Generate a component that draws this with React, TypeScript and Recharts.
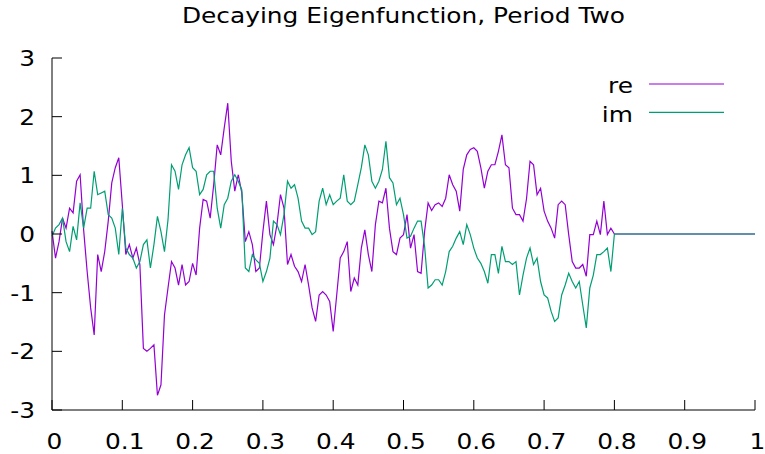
import React from "react";
import { LineChart, Line, XAxis, YAxis } from "recharts";

const TITLE = "Decaying Eigenfunction, Period Two";
const SERIES_NAMES = ["re", "im"];
const COLORS = { re: "#9400d3", im: "#009e73" };

const X_STEP = 0.005;
const X_TICKS = [0, 0.1, 0.2, 0.3, 0.4, 0.5, 0.6, 0.7, 0.8, 0.9, 1];
const X_TICK_LABELS = ["0", "0.1", "0.2", "0.3", "0.4", "0.5", "0.6", "0.7", "0.8", "0.9", "1"];
const Y_TICKS = [-3, -2, -1, 0, 1, 2, 3];
const Y_TICK_LABELS = ["-3", "-2", "-1", "0", "1", "2", "3"];

const reValues = [
  0.05, -0.41, -0.13, 0.27, 0.1, 0.44, 0.36, 0.9, 1.01, 0.07,
  -0.64, -1.26, -1.72, -0.35, -0.64, -0.3, 0.22, 0.87, 1.13, 1.3,
  0.5, -0.35, -0.18, -0.41, -0.24, -0.52, -1.95, -2.0, -1.95, -1.89,
  -2.75, -2.57, -1.38, -0.92, -0.47, -0.58, -0.87, -0.52, -0.87, -0.81,
  -0.5, -0.7, 0.1, 0.59, 0.56, 0.27, 0.84, 1.52, 1.35, 1.81,
  2.23, 1.24, 0.73, 1.01, 0.7, -0.13, 0.04, -0.18, -0.64, -0.58,
  0.04, 0.56, -0.01, -0.18, 0.16, 0.67, 0.44, -0.52, -0.35, -0.55,
  -0.64, -0.81, -0.52, -0.87, -1.26, -1.49, -1.04, -0.98, -1.04, -1.15,
  -1.66, -1.04, -0.41, -0.3, -0.13, -0.98, -0.75, -0.87, -0.24, 0.07,
  -0.35, -0.64, 0.16, 0.56, 0.53, 0.78, 0.1, -0.3, -0.35, -0.07,
  -0.01, 0.33, -0.24, -0.01, -0.64, -0.67, 0.04, 0.53, 0.4, 0.5,
  0.53, 0.47, 0.61, 1.01, 0.84, 0.73, 0.39, 1.1, 1.35, 1.44,
  1.47, 1.41, 1.13, 0.78, 1.07, 1.18, 1.18, 1.41, 1.69, 1.18,
  1.13, 0.44, 0.33, 0.33, 0.22, 0.6, 1.24, 1.18, 0.67, 0.78,
  0.39, 0.22, 0.1, -0.07, 0.5, 0.56, 0.5, -0.01, -0.47, -0.58,
  -0.58, -0.52, -0.72, -0.01, -0.01, 0.22, -0.01, 0.56, -0.01, 0.1,
  0,
];

const imValues = [
  -0.04, 0.1, 0.16, 0.27, -0.13, -0.3, 0.13, -0.1, 0.53, 0.1,
  0.44, 0.44, 1.07, 0.67, 0.7, 0.73, 0.33, 0.27, 0.1, -0.35,
  0.44, -0.24, -0.35, -0.41, -0.58, -0.47, -0.18, -0.1, -0.58, -0.18,
  0.3, 0.04, -0.3, 0.24, 1.18, 1.07, 0.76, 1.18, 1.35, 1.47,
  1.13, 1.07, 0.67, 0.76, 1.01, 1.07, 1.07, 0.44, 0.1, 0.5,
  0.61, 0.9, 1.01, 0.9, 0.75, -0.58, -0.64, -0.35, -0.44, -0.5,
  -0.81, -0.64, -0.41, 0.22, 0.16, -0.01, 0.33, 0.9, 0.78, 0.84,
  0.61, 0.22, 0.1, 0.1, -0.01, 0.04, 0.56, 0.78, 0.5, 0.67,
  0.5, 0.56, 0.61, 1.01, 0.56, 0.5, 0.56, 0.84, 1.13, 1.52,
  1.35, 0.9, 0.78, 0.9, 1.1, 1.58, 0.96, 0.87, 0.5, 0.61,
  0.33, -0.07, -0.04, 0.1, 0.22, 0.22, -0.21, -0.92, -0.87, -0.78,
  -0.78, -0.87, -0.64, -0.3, -0.21, -0.07, 0.04, -0.18, 0.16, -0.01,
  -0.24, -0.41, -0.5, -0.64, -0.84, -0.35, -0.35, -0.67, -0.21, -0.47,
  -0.47, -0.52, -0.47, -1.04, -0.7, -0.41, -0.24, -0.52, -0.41, -0.81,
  -1.04, -1.09, -1.32, -1.49, -1.43, -1.04, -0.87, -0.67, -0.81, -0.92,
  -0.81, -1.21, -1.6, -0.92, -0.7, -0.35, -0.35, -0.3, -0.24, -0.64,
  0,
];

// tail of the eigenfunction: zero after x = 0.8
const tailX = [1];
const tailRe = [0];
const tailIm = [0];

const data = [
  ...reValues.map((re, i) => ({
    x: Math.round(i * X_STEP * 1000) / 1000,
    re,
    im: imValues[i],
  })),
  ...tailX.map((x, i) => ({ x, re: tailRe[i], im: tailIm[i] })),
];

const FONT = "'DejaVu Sans', sans-serif";
const FS = 22;
const SX = 1.13;
const TICK_LEN = 10;

const labelFor = (values: number[], labels: string[], v: number) => {
  const idx = values.findIndex((t) => Math.abs(t - v) < 1e-9);
  return idx >= 0 ? labels[idx] : String(v);
};

const BottomTick = (props: any) => {
  const { x, y, payload } = props;
  return (
    <g>
      <line x1={x} y1={y} x2={x} y2={y - TICK_LEN} stroke="#000" strokeWidth={1} />
      <g transform={`translate(${x + 2.5},${y + 39}) scale(${SX},1)`}>
        <text x={0} y={0} textAnchor="middle" fontSize={FS} fontFamily={FONT} fill="#000">
          {labelFor(X_TICKS, X_TICK_LABELS, payload.value)}
        </text>
      </g>
    </g>
  );
};

const TopTick = (props: any) => {
  const { x, y } = props;
  return <line x1={x} y1={y} x2={x} y2={y + TICK_LEN} stroke="#000" strokeWidth={1} />;
};

const LeftTick = (props: any) => {
  const { x, y, payload } = props;
  return (
    <g>
      <line x1={x} y1={y} x2={x + TICK_LEN} y2={y} stroke="#000" strokeWidth={1} />
      <g transform={`translate(${x - 17},${y + 8}) scale(${SX},1)`}>
        <text x={0} y={0} textAnchor="end" fontSize={FS} fontFamily={FONT} fill="#000">
          {labelFor(Y_TICKS, Y_TICK_LABELS, payload.value)}
        </text>
      </g>
    </g>
  );
};

const RightTick = (props: any) => {
  const { x, y } = props;
  return <line x1={x} y1={y} x2={x - TICK_LEN} y2={y} stroke="#000" strokeWidth={1} />;
};

export default function App() {
  return (
    <div style={{ position: "absolute", left: 0, top: 0, width: 765, height: 454, background: "#fff" }}>
      <LineChart
        width={765}
        height={454}
        data={data}
        margin={{ top: 58, right: 10, bottom: 14, left: 22 }}
      >
        <XAxis
          xAxisId="bottom"
          dataKey="x"
          type="number"
          domain={[0, 1]}
          ticks={X_TICKS}
          interval={0}
          orientation="bottom"
          height={30}
          tickSize={0}
          tickMargin={0}
          tickLine={false}
          axisLine={{ stroke: "#000", strokeWidth: 1 }}
          tick={<BottomTick />}
        />
        <XAxis
          xAxisId="top"
          dataKey="x"
          type="number"
          domain={[0, 1]}
          ticks={X_TICKS}
          interval={0}
          orientation="top"
          height={0}
          tickSize={0}
          tickMargin={0}
          tickLine={false}
          axisLine={{ stroke: "#000", strokeWidth: 1 }}
          tick={<TopTick />}
        />
        <YAxis
          yAxisId="left"
          type="number"
          domain={[-3, 3]}
          ticks={Y_TICKS}
          interval={0}
          orientation="left"
          width={30}
          tickSize={0}
          tickMargin={0}
          tickLine={false}
          axisLine={{ stroke: "#000", strokeWidth: 1 }}
          tick={<LeftTick />}
          allowDataOverflow
        />
        <YAxis
          yAxisId="right"
          type="number"
          domain={[-3, 3]}
          ticks={Y_TICKS}
          interval={0}
          orientation="right"
          width={0}
          tickSize={0}
          tickMargin={0}
          tickLine={false}
          axisLine={{ stroke: "#000", strokeWidth: 1 }}
          tick={<RightTick />}
          allowDataOverflow
        />
        <Line
          xAxisId="bottom"
          yAxisId="left"
          type="linear"
          dataKey="re"
          name={SERIES_NAMES[0]}
          stroke={COLORS.re}
          strokeWidth={1.2}
          dot={false}
          activeDot={false}
          isAnimationActive={false}
        />
        <Line
          xAxisId="bottom"
          yAxisId="left"
          type="linear"
          dataKey="im"
          name={SERIES_NAMES[1]}
          stroke={COLORS.im}
          strokeWidth={1.2}
          dot={false}
          activeDot={false}
          isAnimationActive={false}
        />
      </LineChart>
      <svg
        width={765}
        height={454}
        style={{ position: "absolute", left: 0, top: 0, pointerEvents: "none" }}
      >
        <g transform={`translate(403.5,22.5) scale(${SX},1)`}>
          <text x={0} y={0} textAnchor="middle" fontSize={FS} fontFamily={FONT} fill="#000">
            {TITLE}
          </text>
        </g>
        <g transform={`translate(633,93) scale(${SX},1)`}>
          <text x={0} y={0} textAnchor="end" fontSize={FS} fontFamily={FONT} fill="#000">
            {SERIES_NAMES[0]}
          </text>
        </g>
        <line x1={649} y1={84} x2={724} y2={84} stroke={COLORS.re} strokeWidth={1.2} />
        <g transform={`translate(633,121.5) scale(${SX},1)`}>
          <text x={0} y={0} textAnchor="end" fontSize={FS} fontFamily={FONT} fill="#000">
            {SERIES_NAMES[1]}
          </text>
        </g>
        <line x1={649} y1={112.3} x2={724} y2={112.3} stroke={COLORS.im} strokeWidth={1.2} />
      </svg>
    </div>
  );
}
